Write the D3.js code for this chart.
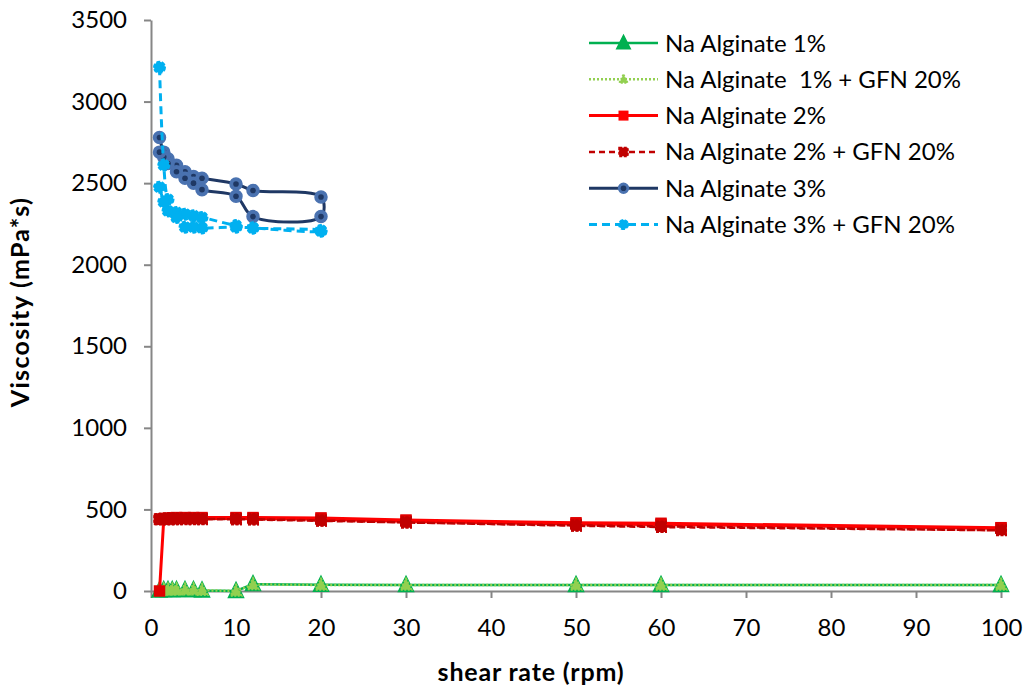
<!DOCTYPE html>
<html>
<head>
<meta charset="utf-8">
<script src="https://cdn.jsdelivr.net/npm/d3@7"></script>
<style>
  html, body { margin: 0; padding: 0; background: #fff; }
  svg { display: block; }
  text { font-family: Lato, "Open Sans", sans-serif; fill: #000; }
</style>
</head>
<body>
<svg id="chart" width="1023" height="690"></svg>
<script>
// ---------- DATA ----------
const yTicks = [0, 500, 1000, 1500, 2000, 2500, 3000, 3500];
const xTicks = [0, 10, 20, 30, 40, 50, 60, 70, 80, 90, 100];

const seriesNames = [
  "Na Alginate 1%",
  "Na Alginate  1% + GFN 20%",
  "Na Alginate 2%",
  "Na Alginate 2% + GFN 20%",
  "Na Alginate 3%",
  "Na Alginate 3% + GFN 20%"
];

// Na Alginate 1%
const rpmA1 = [1, 1.5, 2, 2.5, 3, 4, 5, 6, 10, 12, 20, 30, 50, 60, 100];
const viscA1 = [3, 6, 6, 6, 6, 6, 6, 3, 0, 42, 38, 37, 37, 37, 37];
// Na Alginate 1% + GFN 20%
const rpmA1G = [1, 1.5, 2, 2.5, 3, 4, 5, 6, 10, 12, 20, 30, 50, 60, 100];
const viscA1G = [5, 8, 8, 8, 8, 8, 8, 5, 0, 40, 37, 37, 37, 37, 37];
// Na Alginate 2%
const rpmA2 = [1, 1.5, 2, 2.5, 3, 4, 5, 6, 10, 12, 20, 30, 50, 60, 100,
               100, 60, 50, 30, 20, 12, 10, 6, 5, 4, 3, 2.5, 2, 1.5, 1];
const viscA2 = [0, 440, 445, 448, 450, 450, 450, 450, 450, 450, 448, 435, 418, 415, 388,
                385, 408, 410, 428, 440, 445, 445, 445, 445, 445, 445, 445, 445, 442, 440];
// Na Alginate 2% + GFN 20%
const rpmA2G = [1, 1.5, 2, 2.5, 3, 4, 5, 6, 10, 12, 20, 30, 50, 60, 100,
                60, 50, 30, 20, 12, 10, 6, 5, 4, 3, 2.5, 2, 1.5, 1];
const viscA2G = [440, 445, 445, 445, 445, 445, 445, 442, 440, 440, 432, 420, 400, 392, 372,
                 396, 402, 420, 430, 438, 440, 440, 440, 440, 440, 440, 440, 440, 440];
// Na Alginate 3%
const rpmA3 = [1, 1.5, 2, 3, 4, 5, 6, 10, 12, 20, 20, 12, 10, 6, 5, 4, 3, 2, 1.5, 1];
const viscA3 = [2780, 2690, 2650, 2610, 2570, 2540, 2530, 2495, 2455, 2415,
                2295, 2295, 2420, 2460, 2500, 2530, 2570, 2620, 2660, 2690];
// Na Alginate 3% + GFN 20%
const rpmA3G = [1, 1.5, 2, 3, 4, 5, 6, 10, 12, 20, 20, 12, 10, 6, 5, 4, 3, 2, 1.5, 1];
const viscA3G = [3210, 2610, 2400, 2320, 2310, 2300, 2290, 2240, 2225, 2210,
                 2205, 2225, 2230, 2225, 2230, 2230, 2290, 2330, 2385, 2475];

// ---------- STYLES ----------
const series = [
  {name: seriesNames[0], rpm: rpmA1, visc: viscA1, line: "#00B050", dash: null, width: 2.5, smooth: false,
   shape: "triangle", size: 15, fill: "#00B050", stroke: "#00B050", mdash: null},
  {name: seriesNames[1], rpm: rpmA1G, visc: viscA1G, line: "#92D050", dash: "2,2", width: 2.5, smooth: false,
   shape: "triangle", size: 11, fill: "#92D050", stroke: "#92D050", mdash: "2,1.5"},
  {name: seriesNames[2], rpm: rpmA2, visc: viscA2, line: "#FF0000", dash: null, width: 3, smooth: false,
   shape: "square", size: 10, fill: "#E00000", stroke: "#E00000", mdash: null},
  {name: seriesNames[3], rpm: rpmA2G, visc: viscA2G, line: "#C00000", dash: "6,4", width: 2.5, smooth: false,
   shape: "square", size: 10, fill: "#C00000", stroke: "#C00000", mdash: "3,1.5"},
  {name: seriesNames[4], rpm: rpmA3, visc: viscA3, line: "#1F3864", dash: null, width: 3, smooth: true,
   shape: "circle", size: 14, fill: "#4A72B0", stroke: "#4A72B0", mdash: null},
  {name: seriesNames[5], rpm: rpmA3G, visc: viscA3G, line: "#00B0F0", dash: "8,5", width: 3, smooth: true,
   shape: "blob", size: 13, fill: "#00B0F0", stroke: "#00B0F0", mdash: "4,1.5"}
];

// ---------- CHART ----------
const svg = d3.select("#chart");
const margin = {left: 151, right: 22, top: 20, bottom: 99};
const W = 1023, H = 690;
const x = d3.scaleLinear().domain([0, 100]).range([margin.left, W - margin.right]);
const y = d3.scaleLinear().domain([0, 3500]).range([H - margin.bottom, margin.top]);

const axisColor = "#868686";

const gy = svg.append("g").attr("transform", `translate(${margin.left},0)`)
  .call(d3.axisLeft(y).tickValues(yTicks).tickSize(7).tickSizeOuter(0).tickPadding(17)
        .tickFormat(d3.format("d")));
const gx = svg.append("g").attr("transform", `translate(0,${H - margin.bottom})`)
  .call(d3.axisBottom(x).tickValues(xTicks).tickSize(7).tickSizeOuter(0).tickPadding(21)
        .tickFormat(d3.format("d")));
[gy, gx].forEach(g => {
  g.select(".domain").attr("stroke", axisColor).attr("stroke-width", 2);
  g.selectAll(".tick line").attr("stroke", axisColor).attr("stroke-width", 2);
  g.selectAll(".tick text").attr("font-family", "Lato, sans-serif").attr("font-size", 24).attr("fill", "#000");
});

// axis titles
svg.append("text")
  .attr("transform", `translate(29,302) rotate(-90)`)
  .attr("text-anchor", "middle").attr("font-weight", "bold").attr("font-size", 25)
  .attr("letter-spacing", 1.3)
  .text("Viscosity (mPa*s)");
svg.append("text")
  .attr("x", 531).attr("y", 681)
  .attr("text-anchor", "middle").attr("font-weight", "bold").attr("font-size", 25)
  .attr("letter-spacing", 0.8)
  .text("shear rate (rpm)");

function drawMarker(g, s, cx, cy, scale = 1) {
  const sz = s.size * scale;
  let m;
  if (s.shape === "triangle") {
    const h = sz * 0.95;
    m = g.append("path").attr("d",
      `M${cx},${cy - h * 0.6} L${cx + sz / 2},${cy + h * 0.45} L${cx - sz / 2},${cy + h * 0.45} Z`);
  } else if (s.shape === "square") {
    m = g.append("rect").attr("x", cx - sz / 2).attr("y", cy - sz / 2).attr("width", sz).attr("height", sz);
  } else {
    m = g.append("circle").attr("cx", cx).attr("cy", cy).attr("r", sz / 2 - 1);
  }
  m.attr("fill", s.fill).attr("stroke", s.stroke).attr("stroke-width", 1.5);
  if (s.mdash) m.attr("stroke-dasharray", s.mdash).attr("stroke-width", 2);
  if (s.shape === "circle") {
    g.append("circle").attr("cx", cx).attr("cy", cy).attr("r", 2.8).attr("fill", s.line);
  }
}

const plot = svg.append("g");
series.forEach(s => {
  const pts = s.rpm.map((r, i) => [r, s.visc[i]]);
  const lineGen = d3.line().x(d => x(d[0])).y(d => y(d[1]))
    .curve(s.smooth ? d3.curveCatmullRom.alpha(0.5) : d3.curveLinear);
  const g = plot.append("g");
  g.append("path").datum(pts).attr("d", lineGen)
    .attr("fill", "none").attr("stroke", s.line).attr("stroke-width", s.width)
    .attr("stroke-linejoin", "round")
    .attr("stroke-dasharray", s.dash);
  pts.forEach(p => drawMarker(g, s, x(p[0]), y(p[1])));
});

// legend
const legend = svg.append("g");
const legX0 = 589, legX1 = 658, legTextX = 665, legY0 = 43, legDy = 36.3;
series.forEach((s, i) => {
  const yy = legY0 + i * legDy;
  legend.append("line").attr("x1", legX0).attr("x2", legX1).attr("y1", yy).attr("y2", yy)
    .attr("stroke", s.line).attr("stroke-width", s.width).attr("stroke-dasharray", s.dash);
  const ls = Object.assign({}, s);
  if (i === 2) { ls.fill = "#FF0000"; ls.stroke = "#FF0000"; }
  drawMarker(legend, ls, (legX0 + legX1) / 2, yy, i === 1 ? 0.75 : (i === 0 ? 0.9 : 0.85));
  legend.append("text").attr("x", legTextX).attr("y", yy + 8.5)
    .attr("font-size", 24).attr("xml:space", "preserve").style("white-space", "pre").text(s.name);
});
</script>
</body>
</html>
